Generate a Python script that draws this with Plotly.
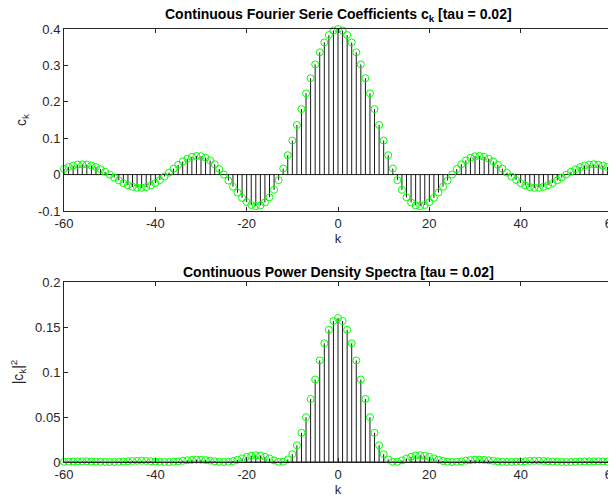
import plotly.graph_objects as go

k_values = list(range(-60, 61))

ck_values = [
    0.01559, 0.02078, 0.02483, 0.02743, 0.02836, 0.02752, 0.02489, 0.02056, 0.01474, 0.00776,
    0.0, -0.00808, -0.01597, -0.02318, -0.02921, -0.03364, -0.03610, -0.03636, -0.03429, -0.02991,
    -0.02339, -0.01502, -0.00525, 0.00539, 0.01627, 0.02673, 0.03607, 0.04364, 0.04886, 0.05124,
    0.05046, 0.04634, 0.03891, 0.02840, 0.01522, 0.0, -0.01649, -0.03334, -0.04952, -0.06399,
    -0.07568, -0.08360, -0.08685, -0.08471, -0.07664, -0.06237, -0.04185, -0.01534, 0.01662, 0.05326,
    0.09355, 0.13626, 0.18001, 0.22334, 0.26474, 0.30273, 0.33595, 0.36317, 0.38336, 0.39580,
    0.40000,
    0.39580, 0.38336, 0.36317, 0.33595, 0.30273, 0.26474, 0.22334, 0.18001, 0.13626, 0.09355,
    0.05326, 0.01662, -0.01534, -0.04185, -0.06237, -0.07664, -0.08471, -0.08685, -0.08360, -0.07568,
    -0.06399, -0.04952, -0.03334, -0.01649, 0.0, 0.01522, 0.02840, 0.03891, 0.04634, 0.05046,
    0.05124, 0.04886, 0.04364, 0.03607, 0.02673, 0.01627, 0.00539, -0.00525, -0.01502, -0.02339,
    -0.02991, -0.03429, -0.03636, -0.03610, -0.03364, -0.02921, -0.02318, -0.01597, -0.00808, 0.0,
    0.00776, 0.01474, 0.02056, 0.02489, 0.02752, 0.02836, 0.02743, 0.02483, 0.02078, 0.01559,
]

power_values = [
    0.00024, 0.00043, 0.00062, 0.00075, 0.00080, 0.00076, 0.00062, 0.00042, 0.00022, 0.00006,
    0.0, 0.00007, 0.00026, 0.00054, 0.00085, 0.00113, 0.00130, 0.00132, 0.00118, 0.00089,
    0.00055, 0.00023, 0.00003, 0.00003, 0.00026, 0.00071, 0.00130, 0.00190, 0.00239, 0.00263,
    0.00255, 0.00215, 0.00151, 0.00081, 0.00023, 0.0, 0.00027, 0.00111, 0.00245, 0.00409,
    0.00573, 0.00699, 0.00754, 0.00718, 0.00587, 0.00389, 0.00175, 0.00024, 0.00028, 0.00284,
    0.00875, 0.01857, 0.03240, 0.04988, 0.07009, 0.09165, 0.11286, 0.13189, 0.14697, 0.15666,
    0.16000,
    0.15666, 0.14697, 0.13189, 0.11286, 0.09165, 0.07009, 0.04988, 0.03240, 0.01857, 0.00875,
    0.00284, 0.00028, 0.00024, 0.00175, 0.00389, 0.00587, 0.00718, 0.00754, 0.00699, 0.00573,
    0.00409, 0.00245, 0.00111, 0.00027, 0.0, 0.00023, 0.00081, 0.00151, 0.00215, 0.00255,
    0.00263, 0.00239, 0.00190, 0.00130, 0.00071, 0.00026, 0.00003, 0.00003, 0.00023, 0.00055,
    0.00089, 0.00118, 0.00132, 0.00130, 0.00113, 0.00085, 0.00054, 0.00026, 0.00007, 0.0,
    0.00006, 0.00022, 0.00042, 0.00062, 0.00076, 0.00080, 0.00075, 0.00062, 0.00043, 0.00024,
]

x_ticks = [-60, -40, -20, 0, 20, 40, 60]
x_tick_text = ["-60", "-40", "-20", "0", "20", "40", "60"]
y1_ticks = [-0.1, 0, 0.1, 0.2, 0.3, 0.4]
y1_tick_text = ["-0.1", "0", "0.1", "0.2", "0.3", "0.4"]
y2_ticks = [0, 0.05, 0.1, 0.15, 0.2]
y2_tick_text = ["0", "0.05", "0.1", "0.15", "0.2"]

FONT = "Liberation Sans, Arial, Helvetica, sans-serif"
TXT = "#262626"
AX = "#262626"

fig = go.Figure()


def add_stem(xs, ys, xa, ya):
    sx, sy = [], []
    for x, y in zip(xs, ys):
        sx += [x, x, None]
        sy += [0, y, None]
    fig.add_trace(go.Scatter(x=sx, y=sy, mode="lines", xaxis=xa, yaxis=ya,
                             line=dict(color="black", width=0.9),
                             hoverinfo="skip", showlegend=False))
    # baseline
    fig.add_trace(go.Scatter(x=[x_ticks[0], x_ticks[-1]], y=[0, 0], mode="lines",
                             xaxis=xa, yaxis=ya, line=dict(color="black", width=0.9),
                             hoverinfo="skip", showlegend=False))
    fig.add_trace(go.Scatter(x=xs, y=ys, mode="markers", xaxis=xa, yaxis=ya,
                             marker=dict(symbol="circle-open", size=7,
                                         color="#00ff00", line=dict(width=1, color="#00ff00")),
                             cliponaxis=False, showlegend=False))


add_stem(k_values, ck_values, "x", "y")
add_stem(k_values, power_values, "x2", "y2")

axis_common = dict(showline=True, linecolor=AX, linewidth=1, mirror="ticks",
                   ticks="inside", ticklen=4, tickcolor=AX, showgrid=False,
                   zeroline=False, automargin=False, ticklabeloverflow="allow",
                   tickfont=dict(family=FONT, size=13, color=TXT))

# The page body adds an 8px offset, so the figure is 8px smaller than the window.
fig.update_layout(
    width=608, height=489,
    paper_bgcolor="white", plot_bgcolor="white",
    margin=dict(l=56, r=4, t=21, b=35),
    font=dict(family=FONT, color=TXT),
    xaxis=dict(domain=[0, 1], anchor="y", range=[-60, 60], tickvals=x_ticks,
               ticktext=x_tick_text,
               title=dict(text="k", font=dict(size=13, color=TXT), standoff=0),
               **axis_common),
    yaxis=dict(domain=[0.5797, 1], anchor="x", range=[-0.1, 0.4], tickvals=y1_ticks,
               ticktext=y1_tick_text,
               title=dict(text="c<sub>k</sub>", font=dict(size=14, color=TXT), standoff=8),
               **axis_common),
    xaxis2=dict(domain=[0, 1], anchor="y2", range=[-60, 60], tickvals=x_ticks,
                ticktext=x_tick_text,
                title=dict(text="k", font=dict(size=13, color=TXT), standoff=0),
                **axis_common),
    yaxis2=dict(domain=[0, 0.4157], anchor="x2", range=[0, 0.2], tickvals=y2_ticks,
                ticktext=y2_tick_text,
                title=dict(text="|c<sub>k</sub>|<sup>2</sup>", font=dict(size=14, color=TXT), standoff=12),
                **axis_common),
    annotations=[
        dict(text="<b>Continuous Fourier Serie Coefficients c<sub>k</sub> [tau = 0.02]</b>",
             xref="paper", yref="paper", x=0.5, y=1, yshift=3, xanchor="center",
             yanchor="bottom", showarrow=False, font=dict(family=FONT, size=14, color="black")),
        dict(text="<b>Continuous Power Density Spectra [tau = 0.02]</b>",
             xref="paper", yref="paper", x=0.5, y=0.4157, yshift=0, xanchor="center",
             yanchor="bottom", showarrow=False, font=dict(family=FONT, size=14, color="black")),
    ],
)

fig.write_html("out.html")
